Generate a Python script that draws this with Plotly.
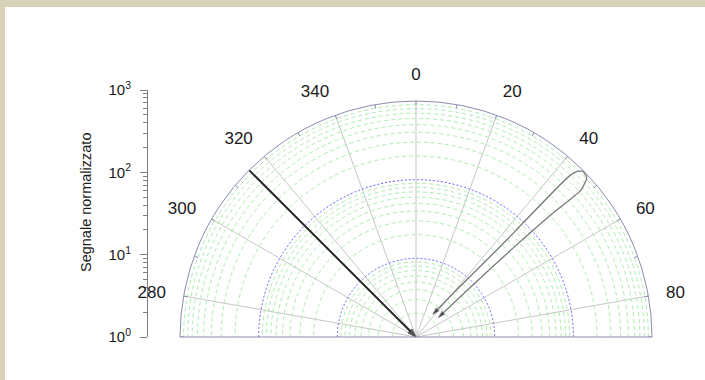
import numpy as np
import plotly.graph_objects as go

# ---- axes definitions -------------------------------------------------------
# Angular ticks (degrees, clockwise from north) and their labels
angle_ticks = [-80, -60, -40, -20, 0, 20, 40, 60, 80]
angle_labels = ["280", "300", "320", "340", "0", "20", "40", "60", "80"]
# small rim ticks every 10 degrees
rim_ticks = list(range(-90, 91, 10))

# Radial (normalized signal) decades and minor values
radial_major = [1, 10, 100, 1000]
radial_major_labels = ["10<sup>0</sup>", "10<sup>1</sup>", "10<sup>2</sup>", "10<sup>3</sup>"]
radial_minor = [2, 3, 4, 5, 6, 7, 8, 9,
                20, 30, 40, 50, 60, 70, 80, 90,
                200, 300, 400, 500, 600, 700, 800, 900]
decade_circles = [10, 100]

# ---- data -------------------------------------------------------------------
# direct vector at 315 deg, from full scale down to the origin
beam_theta = [315, 315]
beam_r = [1000, 1]

# narrow lobe around 45 deg: both flanks run from the tip back to the origin
lobe_left_theta = [45.2, 44.3, 43.6, 43.2, 43.0, 40.5, 36.6]
lobe_left_r = [980, 880, 660, 98, 40, 5.6, 2.3]
lobe_right_theta = [45.2, 47.0, 47.6, 48.3, 47.8, 47.5, 47.6, 49.0]
lobe_right_r = [980, 930, 810, 650, 200, 53, 7, 2.4]

FONT = "Arial, Liberation Sans, sans-serif"
W, H = 705, 380
CX, CY, R = 416, 337, 236
BEIGE = "#d8d2b9"

fig = go.Figure()

# dotted decade circles
arc = np.linspace(-90, 90, 361)
for d in decade_circles:
    fig.add_trace(go.Scatterpolar(
        theta=arc, r=np.full(arc.size, d), mode="lines",
        line=dict(color="#5c5cff", width=1, dash="2px,2px"),
        hoverinfo="skip", showlegend=False))

# short inward rim ticks
rt, rr = [], []
for a in rim_ticks:
    rt += [a, a, None]
    rr += [10 ** 2.95, 1000, None]
fig.add_trace(go.Scatterpolar(
    theta=rt, r=rr, mode="lines", line=dict(color="#8c8cae", width=1),
    hoverinfo="skip", showlegend=False))

# lobe flanks
for th, r in ((lobe_left_theta, lobe_left_r), (lobe_right_theta, lobe_right_r)):
    sizes = [0] * (len(r) - 1) + [7]
    fig.add_trace(go.Scatterpolar(
        theta=th, r=r, mode="lines+markers",
        line=dict(color="#7a7a7a", width=1.3, shape="spline", smoothing=0.6),
        marker=dict(symbol="arrow", angleref="previous", size=sizes, color="#111"),
        hoverinfo="skip", showlegend=False))

# direct vector
fig.add_trace(go.Scatterpolar(
    theta=beam_theta, r=beam_r, mode="lines+markers",
    line=dict(color="#2a2a2a", width=2),
    marker=dict(symbol="arrow", angleref="previous", size=[0, 9], color="#111"),
    hoverinfo="skip", showlegend=False))

# helper trace carrying the vertical log scale on the left
fig.add_trace(go.Scatter(x=[0, 0], y=[1, 1000], mode="none",
                         hoverinfo="skip", showlegend=False,
                         xaxis="x", yaxis="y"))

fig.update_layout(
    width=W, height=H,
    margin=dict(l=0, r=0, t=0, b=0, autoexpand=False),
    paper_bgcolor="white",
    plot_bgcolor="rgba(0,0,0,0)",
    font=dict(family=FONT, color="#1a1a1a"),
    shapes=[
        dict(type="rect", xref="paper", yref="paper",
             x0=0, x1=1, y0=(H - 7) / H, y1=1,
             fillcolor=BEIGE, line=dict(width=0), layer="below"),
        dict(type="rect", xref="paper", yref="paper",
             x0=0, x1=5 / W, y0=0, y1=1,
             fillcolor=BEIGE, line=dict(width=0), layer="below"),
    ],
    polar=dict(
        domain=dict(x=[(CX - R) / W, (CX + R) / W],
                    y=[(H - CY) / H, (H - CY + R) / H]),
        sector=[0, 180],
        bgcolor="rgba(0,0,0,0)",
        angularaxis=dict(
            rotation=90, direction="clockwise",
            tickmode="array", tickvals=angle_ticks, ticktext=angle_labels,
            ticks="outside", ticklen=14, tickcolor="rgba(0,0,0,0)",
            showgrid=True, gridcolor="#c6c6c6", gridwidth=1,
            showline=True, linecolor="#8c8cae", linewidth=1,
            tickfont=dict(size=17, color="#1a1a1a", family=FONT)),
        radialaxis=dict(
            type="log", range=[0, 3],
            tickmode="array", tickvals=radial_minor,
            showticklabels=False, ticks="", showline=False,
            showgrid=True, gridcolor="#acecac", gridwidth=1, griddash="4px,3px"),
    ),
    xaxis=dict(domain=[0.2, 0.21], visible=False, range=[0, 1]),
    yaxis=dict(
        type="log", range=[0, 3], domain=[(H - 337) / H, (H - 90) / H],
        anchor="free", position=147 / W, side="left",
        showline=True, linecolor="#808080", linewidth=1,
        ticks="outside", ticklen=7, tickcolor="#808080",
        tickmode="array", tickvals=radial_major, ticktext=radial_major_labels,
        ticklabelstandoff=6,
        minor=dict(ticks="outside", ticklen=4, tickcolor="#808080",
                   tickmode="array", tickvals=radial_minor),
        showgrid=False, zeroline=False,
        tickfont=dict(size=15, color="#1a1a1a", family=FONT)),
    annotations=[dict(text="Segnale normalizzato", xref="paper", yref="paper",
                      x=76 / W, y=(H - 203) / H, showarrow=False, textangle=-90,
                      font=dict(size=14.5, color="#1a1a1a", family=FONT))],
)

fig.write_html("out.html")
